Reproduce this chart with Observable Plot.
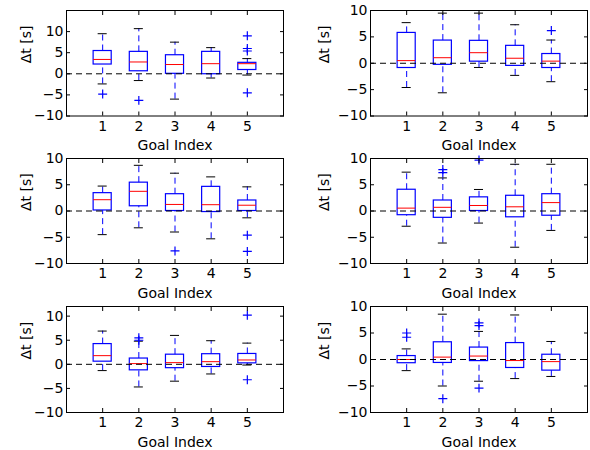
<!DOCTYPE html>
<html><head><meta charset="utf-8">
<script src="https://cdn.jsdelivr.net/npm/d3@7"></script>
<script src="https://cdn.jsdelivr.net/npm/@observablehq/plot@0.6"></script>
<style>
body{margin:0;background:#fff}
#wrap{position:relative;width:590px;height:450px;overflow:hidden;background:#fff}
#wrap svg{position:absolute}
</style>
</head><body><div id="wrap"></div>
<script>
const goals = [1, 2, 3, 4, 5];
const xTicks = [1, 2, 3, 4, 5];
const yTicks = [-10, -5, 0, 5, 10];
const zeroLine = [0];
const xLabel = "Goal Index";
const yLabel = "Δt [s]";

// Panel A (row 1, left)
const A_lo  = [-2.4, -1.6, -6.0, -1.0, -0.3];
const A_q1  = [2.2, 0.6, 0.0, -0.1, 0.9];
const A_med = [3.4, 2.8, 2.2, 2.4, 2.4];
const A_q3  = [5.4, 5.2, 4.4, 5.2, 2.6];
const A_hi  = [9.5, 10.7, 7.5, 6.2, 3.6];
const A_out = [[-4.8], [-6.3], [], [], [9.0, 6.0, 5.4, -4.5]];

// Panel B (row 1, right)
const B_lo  = [-4.6, -5.6, -0.8, -2.3, -3.5];
const B_q1  = [-0.9, -0.3, 0.3, -0.5, -0.9];
const B_med = [0.5, 1.05, 2.0, 0.95, 0.4];
const B_q3  = [5.75, 4.3, 4.25, 3.3, 1.75];
const B_hi  = [7.7, 9.5, 9.5, 7.3, 4.4];
const B_out = [[], [], [], [], [6.2]];

// Panel C (row 2, left)
const C_lo  = [-4.5, -3.2, -4.0, -5.3, -1.3];
const C_q1  = [0.1, 0.9, 0.0, -0.2, 0.0];
const C_med = [2.15, 3.75, 1.25, 1.2, 1.1];
const C_q3  = [3.4, 5.4, 3.2, 4.6, 2.0];
const C_hi  = [4.75, 8.7, 7.2, 6.5, 4.6];
const C_out = [[], [], [-7.6], [], [-4.6, -7.7]];

// Panel D (row 2, right)
const D_lo  = [-2.9, -6.1, -2.3, -6.9, -3.7];
const D_q1  = [-0.8, -1.3, 0.0, -1.2, -0.9];
const D_med = [0.55, 0.7, 1.05, 0.8, 1.6];
const D_q3  = [4.05, 2.0, 2.6, 2.9, 3.2];
const D_hi  = [7.4, 6.3, 4.1, 8.9, 8.9];
const D_out = [[], [7.9, 7.3], [9.7], [], []];

// Panel E (row 3, left)
const E_lo  = [-1.3, -4.7, -3.5, -2.0, -0.15];
const E_q1  = [0.55, -1.25, -0.8, -0.55, 0.2];
const E_med = [1.8, 0.15, 0.35, 0.55, 0.9];
const E_q3  = [4.2, 1.2, 2.0, 2.1, 2.15];
const E_hi  = [6.9, 4.8, 6.0, 4.9, 4.4];
const E_out = [[], [5.5, 5.0], [], [], [10.2, -3.2]];

// Panel F (row 3, right)
const F_lo  = [-2.1, -5.0, -4.1, -3.6, -3.2];
const F_q1  = [-0.7, -0.65, -0.3, -1.6, -2.1];
const F_med = [0.0, 0.45, 0.65, -0.2, -0.4];
const F_q3  = [0.65, 3.25, 2.25, 3.1, 0.9];
const F_hi  = [2.0, 8.55, 5.3, 8.4, 3.4];
const F_out = [[5.0, 4.2], [-7.4], [6.9, 6.4, -5.4], [], []];

const panels = [
  {lo:A_lo,q1:A_q1,med:A_med,q3:A_q3,hi:A_hi,out:A_out, dom:[-10,15], L:66,  R:283, T:9.5, B:115, ydx:-40},
  {lo:B_lo,q1:B_q1,med:B_med,q3:B_q3,hi:B_hi,out:B_out, dom:[-10,10], L:370, R:587, T:9.5, B:115, ydx:-46},
  {lo:C_lo,q1:C_q1,med:C_med,q3:C_q3,hi:C_hi,out:C_out, dom:[-10,10], L:66,  R:283, T:158, B:263, ydx:-40},
  {lo:D_lo,q1:D_q1,med:D_med,q3:D_q3,hi:D_hi,out:D_out, dom:[-10,10], L:370, R:587, T:158, B:263, ydx:-46},
  {lo:E_lo,q1:E_q1,med:E_med,q3:E_q3,hi:E_hi,out:E_out, dom:[-10,12], L:66,  R:283, T:306, B:412, ydx:-40},
  {lo:F_lo,q1:F_q1,med:F_med,q3:F_q3,hi:F_hi,out:F_out, dom:[-10,10], L:370, R:587, T:306, B:412, ydx:-46}
];

const boxHalf = 0.25, capHalf = 0.125;
const wrap = document.getElementById("wrap");

function panel(p) {
  const rows = goals.map((g, i) => ({g, lo: p.lo[i], q1: p.q1[i], med: p.med[i], q3: p.q3[i], hi: p.hi[i]}));
  const outs = goals.flatMap((g, i) => p.out[i].map(v => ({g, v})));
  const ml = 60, mr = 3, mt = 8, mb = 44;
  const fw = p.R - p.L, fh = p.B - p.T;
  const dash = "6,4";
  const fs = 14;
  const svg = Plot.plot({
    width: ml + fw + mr, height: mt + fh + mb,
    marginLeft: ml, marginRight: mr, marginTop: mt, marginBottom: mb,
    style: {background: "transparent", overflow: "visible", fontFamily: "DejaVu Sans", fontSize: fs + "px", color: "black"},
    x: {domain: [0, 6]},
    y: {domain: p.dom},
    marks: [
      Plot.ruleX(rows, {x: "g", y1: "q3", y2: "hi", stroke: "blue", strokeDasharray: dash}),
      Plot.ruleX(rows, {x: "g", y1: "lo", y2: "q1", stroke: "blue", strokeDasharray: dash}),
      Plot.ruleY(rows, {y: "hi", x1: d => d.g - capHalf, x2: d => d.g + capHalf, stroke: "black"}),
      Plot.ruleY(rows, {y: "lo", x1: d => d.g - capHalf, x2: d => d.g + capHalf, stroke: "black"}),
      Plot.rect(rows, {x1: d => d.g - boxHalf, x2: d => d.g + boxHalf, y1: "q1", y2: "q3", fill: "none", stroke: "blue", strokeWidth: 1.2}),
      Plot.ruleY(rows, {y: "med", x1: d => d.g - boxHalf, x2: d => d.g + boxHalf, stroke: "red"}),
      Plot.dot(outs, {x: "g", y: "v", symbol: "plus", stroke: "blue", r: 3, strokeWidth: 1.2}),
      Plot.ruleY(zeroLine, {y: d => d, stroke: "black", strokeDasharray: dash}),
      Plot.frame({stroke: "black", strokeWidth: 1}),
      Plot.axisX(xTicks, {anchor: "bottom", tickSize: -4, tickFormat: () => "", label: null}),
      Plot.axisX(xTicks, {anchor: "top", tickSize: -4, tickFormat: () => "", label: null}),
      Plot.axisY(yTicks, {anchor: "left", tickSize: -4, tickFormat: () => "", label: null}),
      Plot.axisY(yTicks, {anchor: "right", tickSize: -4, tickFormat: () => "", label: null}),
      Plot.axisX(xTicks, {anchor: "bottom", tickSize: 0, tickPadding: 5, label: null, fontSize: fs, fill: "black"}),
      Plot.axisY(yTicks, {anchor: "left", tickSize: 0, tickPadding: 3, label: null, fontSize: fs, fill: "black"}),
      Plot.text([xLabel], {frameAnchor: "bottom", dy: 34, fontSize: fs, fill: "black"}),
      Plot.text([yLabel], {frameAnchor: "left", rotate: -90, dx: p.ydx, fontSize: fs, fill: "black"})
    ]
  });
  svg.style.left = (p.L - ml) + "px";
  svg.style.top = (p.T - mt) + "px";
  wrap.appendChild(svg);
}
panels.forEach(panel);
</script>
</body></html>
